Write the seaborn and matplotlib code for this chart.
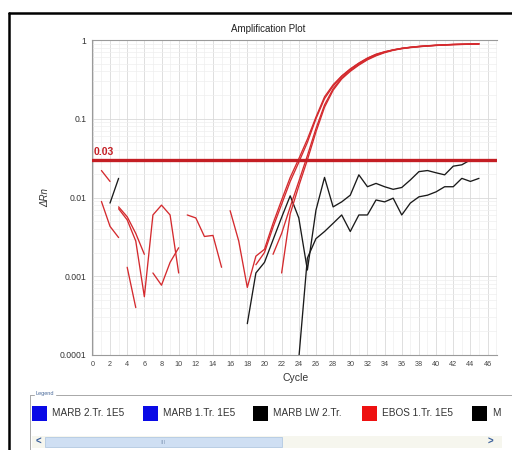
import numpy as np
import pandas as pd
import matplotlib
matplotlib.use("Agg")
import matplotlib.pyplot as plt
from matplotlib.patches import Rectangle
from matplotlib.lines import Line2D
from matplotlib.ticker import LogLocator, NullFormatter
import seaborn as sns

nan = np.nan
cycles = list(range(1, 46))

# Delta Rn per cycle for each well (nan where the baseline-corrected value is <= 0)
ebos_a = [0.022, 0.016, nan, 0.0013, 0.0004, nan, nan, nan, nan, nan,
          nan, nan, nan, nan, nan, 0.0068, 0.0028, 0.00072, 0.0018, 0.0022,
          0.0047, 0.0093, 0.018, 0.031, 0.055, 0.105, 0.19, 0.27, 0.35, 0.43,
          0.51, 0.59, 0.66, 0.71, 0.75, 0.785, 0.81, 0.83, 0.845, 0.86,
          0.87, 0.88, 0.885, 0.89, 0.895]
ebos_b = [0.0089, 0.0043, 0.0031, nan, nan, nan, 0.0011, 0.00077, 0.0015, 0.0023,
          nan, nan, nan, nan, nan, nan, nan, nan, nan, nan,
          0.0019, 0.0035, 0.0076, 0.016, 0.034, 0.075, 0.15, 0.24, 0.33, 0.41,
          0.49, 0.57, 0.64, 0.70, 0.745, 0.78, 0.805, 0.825, 0.84, 0.855,
          0.865, 0.875, 0.88, 0.885, 0.89]
ebos_c = [nan, nan, 0.0076, 0.0057, 0.0035, 0.0019, nan, nan, nan, nan,
          0.006, 0.0055, 0.0032, 0.0033, 0.0013, nan, nan, nan, 0.0014, 0.002,
          0.0042, 0.0082, 0.016, 0.028, 0.05, 0.1, 0.18, 0.26, 0.345, 0.425,
          0.505, 0.585, 0.655, 0.705, 0.748, 0.783, 0.808, 0.828, 0.843, 0.857,
          0.868, 0.878, 0.884, 0.889, 0.893]
ebos_d = [nan, nan, 0.0072, 0.0052, 0.0028, 0.00055, 0.006, 0.008, 0.006, 0.0011,
          nan, nan, nan, nan, nan, nan, nan, nan, nan, nan,
          nan, 0.0011, 0.0062, 0.014, 0.03, 0.068, 0.14, 0.23, 0.32, 0.40,
          0.48, 0.56, 0.63, 0.69, 0.74, 0.775, 0.80, 0.82, 0.838, 0.852,
          0.862, 0.872, 0.878, 0.884, 0.888]
marb_lw_a = [nan, nan, nan, nan, nan, nan, nan, nan, nan, nan,
             nan, nan, nan, nan, nan, nan, nan, 0.00025, 0.0011, 0.0015,
             0.0029, 0.0056, 0.0105, 0.0055, 0.0012, 0.0069, 0.018, 0.0076, 0.0088, 0.0107,
             0.0194, 0.0137, 0.0151, 0.0137, 0.0127, 0.0134, 0.0167, 0.0213, 0.022, 0.0206,
             0.0194, 0.025, 0.026, 0.030, nan]
marb_lw_b = [nan, 0.0085, 0.0175, nan, nan, nan, nan, nan, nan, nan,
             nan, nan, nan, nan, nan, nan, nan, nan, nan, nan,
             nan, nan, nan, 0.00009, 0.0017, 0.003, 0.0037, 0.0047, 0.006, 0.0037,
             0.006, 0.006, 0.0093, 0.0088, 0.0098, 0.006, 0.0085, 0.0102, 0.0107, 0.0118,
             0.0137, 0.0137, 0.0175, 0.016, 0.0175]

threshold = 0.03
x_ticks = list(range(0, 47, 2))
y_ticks = [0.0001, 0.001, 0.01, 0.1, 1]
y_tick_labels = ["0.0001", "0.001", "0.01", "0.1", "1"]
legend_names = ["MARB 2.Tr. 1E5", "MARB 1.Tr. 1E5", "MARB LW 2.Tr.", "EBOS 1.Tr. 1E5", "M"]
legend_colors = ["#0a0ae6", "#0a0ae6", "#000000", "#ee1111", "#000000"]

wells = {
    "MARB LW 2.Tr. a": (marb_lw_a, "#1a1a1a"),
    "MARB LW 2.Tr. b": (marb_lw_b, "#1a1a1a"),
    "EBOS 1.Tr. 1E5 a": (ebos_a, "#d42a2e"),
    "EBOS 1.Tr. 1E5 b": (ebos_b, "#d42a2e"),
    "EBOS 1.Tr. 1E5 c": (ebos_c, "#d42a2e"),
    "EBOS 1.Tr. 1E5 d": (ebos_d, "#d42a2e"),
}

# long-form table; runs of valid values become separate line segments
rows = []
for name, (vals, _) in wells.items():
    seg, gap = 0, True
    for c, v in zip(cycles, vals):
        if np.isnan(v):
            gap = True
            continue
        if gap:
            seg += 1
            gap = False
        rows.append((name, f"{name}-{seg}", c, v))
df = pd.DataFrame(rows, columns=["well", "segment", "cycle", "drn"])
palette = {k: col for k, (_, col) in wells.items()}

sns.set_style("white")
plt.rcParams["font.family"] = ["Liberation Sans", "DejaVu Sans"]

W, H = 512, 450
fig = plt.figure(figsize=(W / 100, H / 100), dpi=100)
fig.patch.set_facecolor("white")


def fx(x):
    return x / W


def fy(y):
    return 1 - y / H


ax = fig.add_axes([fx(92), fy(355), fx(497) - fx(92), fy(40) - fy(355)])
ax.set_yscale("log")

sns.lineplot(data=df, x="cycle", y="drn", hue="well", units="segment",
             estimator=None, palette=palette, hue_order=list(wells.keys()),
             lw=0.95, legend=False, ax=ax)

ax.axhline(threshold, color="#c41e24", lw=2.4, zorder=5)
ax.text(0.05, threshold * 1.08, "0.03", color="#c41e24", fontsize=7.5,
        fontweight="bold", ha="left", va="bottom", zorder=6)

ax.set_xlim(-0.1, 47.1)
ax.set_ylim(1e-4, 1)
ax.set_xticks(x_ticks)
ax.set_xticks(range(0, 48), minor=True)
ax.set_yticks(y_ticks)
ax.set_yticklabels(y_tick_labels)
ax.yaxis.set_minor_locator(LogLocator(base=10, subs=np.arange(2, 10)))
ax.yaxis.set_minor_formatter(NullFormatter())

ax.grid(which="major", color="#d9d9d9", lw=0.6)
ax.grid(which="minor", color="#eeeeee", lw=0.5)
ax.set_axisbelow(True)

ax.tick_params(axis="x", which="major", labelsize=5.2, length=2, color="#888",
               labelcolor="#444", pad=2)
ax.tick_params(axis="y", which="major", labelsize=6.2, length=2, color="#888",
               labelcolor="#333", pad=2)
ax.tick_params(which="minor", length=0)
for side in ["left", "bottom", "top"]:
    ax.spines[side].set_color("#9a9a9a")
    ax.spines[side].set_linewidth(0.8)
ax.spines["right"].set_visible(False)

ax.set_xlabel("")
ax.set_ylabel("")
fig.text(fx(268), fy(29), "Amplification Plot", fontsize=7, ha="center",
         va="center", color="#222")
fig.text(fx(45), fy(198), "ΔRn", fontsize=7, rotation=90, ha="center",
         va="center", color="#333", style="italic")
fig.text(fx(296), fy(378), "Cycle", fontsize=7.5, ha="center", va="center",
         color="#333")

# outer window frame
fig.add_artist(Line2D([fx(9), fx(9)], [0, fy(13)], color="black", lw=1.8,
                      transform=fig.transFigure))
fig.add_artist(Line2D([fx(9), 1], [fy(13), fy(13)], color="black", lw=1.8,
                      transform=fig.transFigure))

# legend group box
fig.add_artist(Line2D([fx(30), fx(34)], [fy(395), fy(395)], color="#a8a8a8",
                      lw=0.7, transform=fig.transFigure))
fig.add_artist(Line2D([fx(56), 1], [fy(395), fy(395)], color="#a8a8a8",
                      lw=0.7, transform=fig.transFigure))
fig.add_artist(Line2D([fx(30), fx(30)], [fy(395), 0], color="#a8a8a8",
                      lw=0.7, transform=fig.transFigure))
fig.text(fx(35), fy(394), "Legend", fontsize=4, color="#4a6a9a", ha="left",
         va="center")

sq_x = [32, 143, 253, 362, 472]
for x0, name, col in zip(sq_x, legend_names, legend_colors):
    fig.add_artist(Rectangle((fx(x0), fy(421)), fx(15), fy(406) - fy(421),
                             facecolor=col, edgecolor="none",
                             transform=fig.transFigure))
    fig.text(fx(x0 + 20), fy(413.5), name, fontsize=7.2, color="#333",
             ha="left", va="center")

# horizontal scroll bar
fig.add_artist(Rectangle((fx(32), fy(448)), fx(470), fy(436) - fy(448),
                         facecolor="#f6f6ee", edgecolor="none",
                         transform=fig.transFigure))
fig.add_artist(Rectangle((fx(45), fy(447)), fx(237), fy(437) - fy(447),
                         facecolor="#cfdff3", edgecolor="#a9c2e0", lw=0.5,
                         transform=fig.transFigure))
fig.text(fx(163), fy(442), "III", fontsize=4.5, color="#8aa0bd", ha="center",
         va="center")
fig.text(fx(38), fy(441.5), "<", fontsize=7, color="#3a5f9a", ha="center",
         va="center", fontweight="bold")
fig.text(fx(490), fy(441.5), ">", fontsize=7, color="#3a5f9a", ha="center",
         va="center", fontweight="bold")

fig.savefig("out.png", dpi=100, facecolor="white")
